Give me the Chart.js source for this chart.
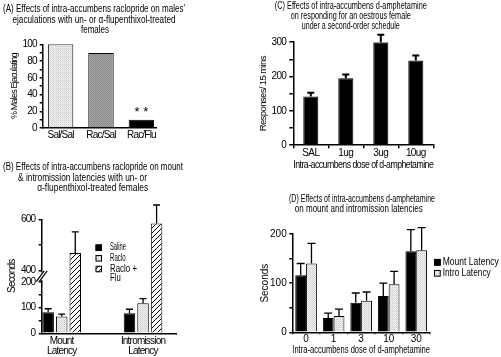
<!DOCTYPE html>
<html><head><meta charset="utf-8">
<script src="https://cdn.jsdelivr.net/npm/chart.js@4.4.1/dist/chart.umd.min.js"></script>
<style>
html,body{margin:0;padding:0;background:#fff;}
body{position:relative;width:501px;height:357px;overflow:hidden;}
canvas{position:absolute;display:block;}
</style></head><body>
<canvas id="cA" width="250" height="160" style="left:0;top:0"></canvas>
<canvas id="cB" width="250" height="197" style="left:0;top:160px"></canvas>
<canvas id="cC" width="251" height="175" style="left:250px;top:0"></canvas>
<canvas id="cD" width="251" height="182" style="left:250px;top:175px"></canvas>
<script>
// ---------- Panel A data ----------
const aTitle = ["(A) Effects of intra-accumbens raclopride on males'", 'ejaculations with un- or \u03b1-flupenthixol-treated', 'females'];
const aCategories = ['Sal/Sal', 'Rac/Sal', 'Rac/Flu'];
const aValues = [100, 89.5, 10];
const aMarks = ['', '', '* *'];
const aYTitle = '% Males Ejaculating';
// ---------- Panel B data ----------
const bTitle = ['(B) Effects of intra-accumbens raclopride on mount', '& intromission latencies with un- or', '\u03b1-flupenthixol-treated females'];
const bCategories = [['Mount', 'Latency'], ['Intromission', 'Latency']];
const bSeries = ['Saline', 'Raclo', 'Raclo + Flu'];
const bSaline = [82, 78];
const bSalineErr = [14, 16];
const bRaclo = [66, 118];
const bRacloErr = [9, 18];
const bRacloFlu = [468, 584];
const bRacloFluErr = [83, 72];
const bTickValues = [0, 50, 100, 150, 200, 400, 500, 600];
const bTickLabels = ['0', '', '100', '', '200', '400', '', '600'];
const bYTitle = 'Seconds';
// ---------- Panel C data ----------
const cTitle = ['(C) Effects of intra-accumbens d-amphetamine', 'on responding for an oestrous female', 'under a second-order schedule'];
const cCategories = ['SAL', '1ug', '3ug', '10ug'];
const cValues = [142, 195, 300, 247];
const cErrors = [11, 11, 22, 14];
const cYTitle = 'Responses/ 15 mins';
const cXTitle = 'Intra-accumbens dose of d-amphetamine';
// ---------- Panel D data ----------
const dTitle = ['(D) Effects of intra-accumbens d-amphetamine', 'on mount and intromission latencies'];
const dCategories = ['0', '1', '3', '10', '30'];
const dSeries = ['Mount Latency', 'Intro Latency'];
const dMount = [116, 29, 60, 74, 165];
const dMountErr = [24, 10, 20, 26, 44];
const dIntro = [140, 33, 64, 98, 167];
const dIntroErr = [41, 14, 18, 26, 46];
const dYTitle = 'Seconds';
const dXTitle = 'Intra-accumbens dose of d-amphetamine';

// ---------- styling ----------
const FONT = "'Liberation Sans', Arial, sans-serif";
Chart.defaults.font.family = FONT;
Chart.defaults.font.size = 10;
Chart.defaults.color = '#000';
Chart.defaults.animation = false;
Chart.defaults.plugins.legend.display = false;
Chart.defaults.plugins.tooltip.enabled = false;
Chart.defaults.plugins.title.display = false;

function makePattern(w, h, draw) {
  const c = document.createElement('canvas'); c.width = w; c.height = h;
  const g = c.getContext('2d'); draw(g);
  return g.createPattern(c, 'repeat');
}
const lightDots = makePattern(2, 2, g => {
  g.fillStyle = '#f4f4f4'; g.fillRect(0, 0, 2, 2);
  g.fillStyle = '#c8c8c8'; g.fillRect(0, 0, 1, 1);
  g.fillStyle = '#dadada'; g.fillRect(1, 1, 1, 1);
});
const midGray = makePattern(2, 2, g => {
  g.fillStyle = '#aaaaaa'; g.fillRect(0, 0, 2, 2);
  g.fillStyle = '#858585'; g.fillRect(0, 0, 1, 1); g.fillRect(1, 1, 1, 1);
});
const hatch = makePattern(5, 5, g => {
  g.fillStyle = '#fff'; g.fillRect(0, 0, 5, 5);
  g.strokeStyle = '#000'; g.lineWidth = 1;
  g.beginPath();
  g.moveTo(-1, 6); g.lineTo(6, -1);
  g.moveTo(-1, 1); g.lineTo(1, -1);
  g.moveTo(4, 6); g.lineTo(6, 4);
  g.stroke();
});

// ---------- helper plugin: condensed text, titles, error bars, legend, marks, axis break ----------
const deco = {
  id: 'deco',
  beforeDraw(chart, args, o) {
    chart.ctx.letterSpacing = (o.spacing || 0) + 'px';
  },
  afterDatasetsDraw(chart, args, o) {
    const ctx = chart.ctx, ys = chart.scales.y;
    const map = o.map || (v => v);
    ctx.save();
    ctx.strokeStyle = '#000';
    ctx.lineWidth = o.errWidth || 1.5;
    chart.data.datasets.forEach((ds, di) => {
      if (!ds.errors) return;
      chart.getDatasetMeta(di).data.forEach((bar, i) => {
        const top = ys.getPixelForValue(map(ds.raw[i] + ds.errors[i]));
        const half = (o.cap || 7) / 2;
        ctx.beginPath();
        ctx.moveTo(bar.x, bar.y); ctx.lineTo(bar.x, top);
        ctx.moveTo(bar.x - half, top); ctx.lineTo(bar.x + half, top);
        ctx.stroke();
      });
    });
    ctx.restore();
  },
  afterDraw(chart, args, o) {
    const ctx = chart.ctx;
    ctx.save();
    ctx.letterSpacing = '0px';
    ctx.fillStyle = '#000';
    ctx.textBaseline = 'middle';
    ctx.textAlign = 'center';
    ctx.font = '10px ' + FONT;
    if (o.title) o.title.lines.forEach((t, i) => ctx.fillText(t, o.title.xs[i], o.title.ys[i], o.title.ws[i]));
    if (o.marks) {
      ctx.font = o.marks.font + ' ' + FONT;
      chart.getDatasetMeta(0).data.forEach((bar, i) => {
        if (o.marks.texts[i]) ctx.fillText(o.marks.texts[i], bar.x, bar.y + o.marks.dy);
      });
    }
    if (o.legend) {
      const L = o.legend;
      ctx.font = '10px ' + FONT;
      ctx.textAlign = 'left';
      let n = 0;
      chart.data.datasets.forEach((ds, i) => {
        const cy = L.ys[i];
        ctx.fillStyle = ds.backgroundColor;
        ctx.fillRect(L.x, cy - L.box / 2, L.box, L.box);
        ctx.strokeStyle = '#000'; ctx.lineWidth = 1;
        ctx.strokeRect(L.x + 0.5, cy - L.box / 2 + 0.5, L.box - 1, L.box - 1);
        ctx.fillStyle = '#000';
        const lines = ds.label.replace('+ ', '+\n').split('\n');
        lines.forEach((t, k) => { ctx.fillText(t, L.textX, cy + k * L.lineGap, L.ws[n]); n++; });
      });
    }
    if (o.brk) {
      const ys = chart.scales.y, x = chart.chartArea.left;
      const yLo = ys.getPixelForValue(o.brk.lo), yHi = ys.getPixelForValue(o.brk.hi);
      ctx.fillStyle = '#fff';
      ctx.fillRect(x - 2, yHi + 2, 4, yLo - yHi - 4);
      ctx.strokeStyle = '#000'; ctx.lineWidth = 1.2;
      [-1.5, 1.5].forEach(dx => {
        ctx.beginPath();
        ctx.moveTo(x + dx - 4, yLo - 0.5);
        ctx.lineTo(x + dx + 4, yHi + 0.5);
        ctx.stroke();
      });
    }
    ctx.restore();
  }
};

function yScale(o) {
  return {
    type: 'linear', min: o.min, max: o.max,
    border: { display: true, color: '#000', width: 1.5 },
    grid: { display: true, drawOnChartArea: false, drawTicks: true, tickLength: o.tickLen, color: '#000', lineWidth: 1.5 },
    ticks: { stepSize: o.step, padding: o.pad, autoSkip: false, color: '#000', font: { size: 10, lineHeight: 1 }, callback: o.cb },
    title: { display: true, text: o.title, color: '#000', font: { size: o.tsize || 10, lineHeight: 1.2 }, padding: { top: o.tpad, bottom: 0 } },
    afterFit: s => { s.width = o.width; },
    afterBuildTicks: o.abt
  };
}
function xLinear(o) {
  return {
    type: 'linear', min: o.min, max: o.max, offset: false,
    border: { display: true, color: '#000', width: 1.5 },
    grid: { display: false, drawTicks: false, offset: false },
    ticks: { padding: o.pad, autoSkip: false, maxRotation: 0, color: '#000', font: { size: 10, lineHeight: 1 }, callback: v => o.labels[v] ?? '' },
    afterBuildTicks: s => { s.ticks = o.labels.map((_, i) => ({ value: i })); },
    afterFit: s => { s.height = o.height; }
  };
}
function xCategory(o) {
  return {
    type: 'category', offset: true,
    border: { display: true, color: '#000', width: 1.5 },
    grid: { display: true, offset: true, drawOnChartArea: false, drawTicks: true, tickLength: o.tickLen, color: '#000', lineWidth: 1.5 },
    ticks: { padding: o.pad, autoSkip: false, maxRotation: 0, color: '#000', font: { size: 10, lineHeight: 1 } },
    title: { display: true, text: o.title, color: '#000', font: { size: 10, lineHeight: 1.2 }, padding: { top: 0, bottom: 0 } },
    afterFit: s => { s.height = o.height; }
  };
}

// ---------- Panel A ----------
new Chart(document.getElementById('cA'), {
  type: 'bar',
  data: { datasets: [{
    label: aYTitle,
    data: aValues.map((v, i) => ({ x: i, y: v })),
    backgroundColor: [lightDots, midGray, '#000'],
    borderColor: '#000', borderWidth: 1,
    categoryPercentage: 1, barPercentage: 0.63
  }] },
  options: {
    responsive: false, devicePixelRatio: 1,
    layout: { padding: { left: 0, right: 93.3, top: 44.3, bottom: 17 } },
    scales: {
      x: xLinear({ min: -0.443, max: 2.379, labels: aCategories, pad: 2, height: 15 }),
      y: yScale({ min: 0, max: 100, step: 10, tickLen: 3, pad: 3, width: 42.7, tpad: 9.5, tsize: 9, title: aYTitle,
                  cb: v => (v % 20 === 0 ? String(v) : '') })
    },
    plugins: { deco: {
      spacing: -0.8,
      title: { lines: aTitle, xs: [94, 94, 95], ys: [9.3, 20, 30.5], ws: [182, 163, 28] },
      marks: { texts: aMarks, dy: -7, font: '13px' }
    } }
  },
  plugins: [deco]
});

// ---------- Panel B (broken value axis: 200 -> 400) ----------
const bShift = 154;
const bMap = v => (v >= 400 ? v - bShift : v);
const bValues = [bSaline, bRaclo, bRacloFlu];
const bErrors = [bSalineErr, bRacloErr, bRacloFluErr];
const bFills = ['#000', lightDots, hatch];
new Chart(document.getElementById('cB'), {
  type: 'bar',
  data: { datasets: bSeries.map((name, k) => ({
    label: name,
    data: bValues[k].map((v, i) => ({ x: i, y: bMap(v) })),
    raw: bValues[k], errors: bErrors[k],
    backgroundColor: bFills[k], borderColor: '#000', borderWidth: 1,
    categoryPercentage: 0.5, barPercentage: 0.85
  })) },
  options: {
    responsive: false, devicePixelRatio: 1,
    layout: { padding: { left: 0, right: 73.3, top: 59.3, bottom: 0 } },
    scales: {
      x: xLinear({ min: -0.246, max: 1.414, labels: bCategories, pad: 3, height: 23.7 }),
      y: yScale({ min: 0, max: bMap(600), step: 50, tickLen: 3, pad: 3.5, width: 41.7, tpad: 6.3, title: bYTitle,
                  abt: s => { s.ticks = bTickValues.map(v => ({ value: bMap(v) })); },
                  cb: (v, i) => bTickLabels[i] })
    },
    plugins: { deco: {
      spacing: -0.8,
      map: bMap, cap: 7, errWidth: 1.3,
      title: { lines: bTitle, xs: [93, 82.5, 92.7], ys: [7, 18.5, 28.3], ws: [180, 129, 111] },
      legend: { x: 95.5, box: 6.5, textX: 110, ys: [87.7, 98.3, 109], lineGap: 9.5, ws: [16, 15.7, 27, 10.7] },
      brk: { lo: 200, hi: bMap(400) }
    } }
  },
  plugins: [deco]
});

// ---------- Panel C ----------
new Chart(document.getElementById('cC'), {
  type: 'bar',
  data: { labels: cCategories, datasets: [{
    label: cYTitle, data: cValues, raw: cValues, errors: cErrors,
    backgroundColor: '#000', borderColor: '#000', borderWidth: 1,
    categoryPercentage: 1, barPercentage: 0.43
  }] },
  options: {
    responsive: false, devicePixelRatio: 1,
    layout: { padding: { left: 0, right: 67.7, top: 42.2, bottom: 4 } },
    scales: {
      x: xCategory({ tickLen: 3, pad: 0, height: 25.8, title: cXTitle }),
      y: yScale({ min: 0, max: 300, step: 50, tickLen: 4, pad: 3, width: 43.3, tpad: 8, tsize: 9.5, title: cYTitle,
                  cb: v => (v % 100 === 0 ? String(v) : '') })
    },
    plugins: { deco: {
      spacing: -0.6,
      cap: 7, errWidth: 2,
      title: { lines: cTitle, xs: [100.8, 100.8, 100.8], ys: [6.5, 16.3, 26], ws: [152, 120, 98] }
    } }
  },
  plugins: [deco]
});

// ---------- Panel D ----------
new Chart(document.getElementById('cD'), {
  type: 'bar',
  data: { labels: dCategories, datasets: [
    { label: dSeries[0], data: dMount, raw: dMount, errors: dMountErr,
      backgroundColor: '#000', borderColor: '#000', borderWidth: 1, categoryPercentage: 0.785, barPercentage: 1 },
    { label: dSeries[1], data: dIntro, raw: dIntro, errors: dIntroErr,
      backgroundColor: lightDots, borderColor: '#000', borderWidth: 1, categoryPercentage: 0.785, barPercentage: 1 }
  ] },
  options: {
    responsive: false, devicePixelRatio: 1,
    layout: { padding: { left: 0, right: 71, top: 59, bottom: 1 } },
    scales: {
      x: xCategory({ tickLen: 2, pad: 0, height: 23.7, title: dXTitle }),
      y: yScale({ min: 0, max: 200, step: 50, tickLen: 3, pad: 2.6, width: 42.3, tpad: 9, title: dYTitle,
                  cb: v => (v % 100 === 0 ? String(v) : '') })
    },
    plugins: { deco: {
      spacing: 0,
      cap: 8, errWidth: 1.3,
      title: { lines: dTitle, xs: [112, 108.8], ys: [24, 34.3], ws: [146, 128] },
      legend: { x: 184, box: 6.7, textX: 192.7, ys: [87.3, 98.3], lineGap: 10, ws: [56, 48] }
    } }
  },
  plugins: [deco]
});
</script>
</body></html>
